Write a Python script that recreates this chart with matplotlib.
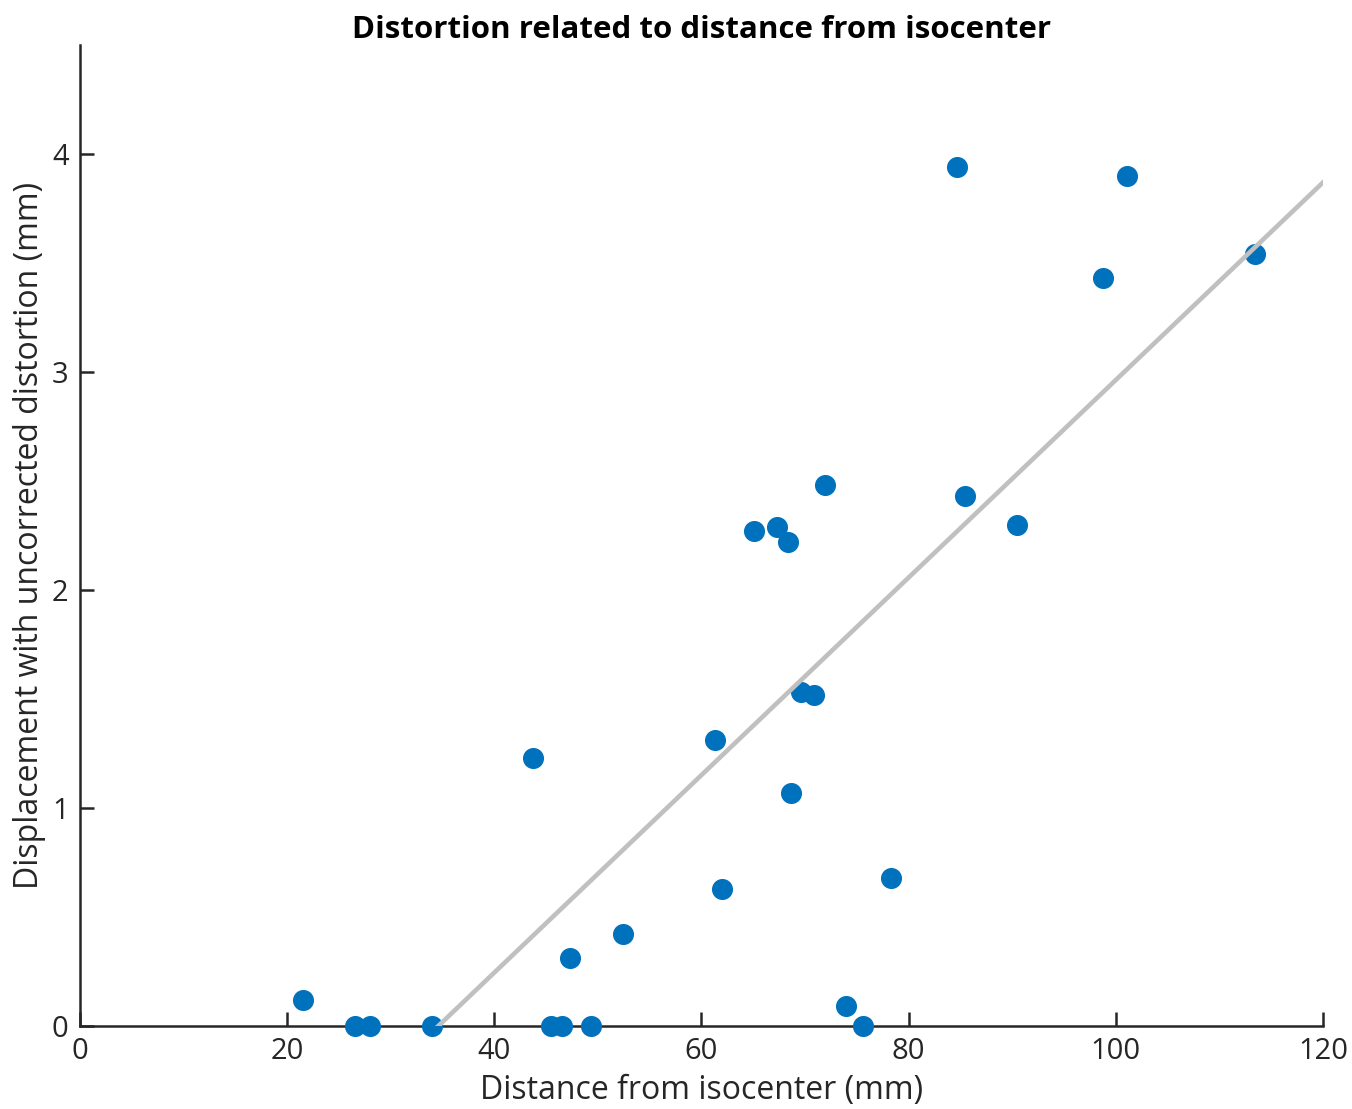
import matplotlib.pyplot as plt

# Measured points (distance from isocenter vs displacement)
distance = [21.5, 26.6, 28.0, 34.0, 43.7, 45.5, 46.5, 47.3, 49.3, 52.4,
            61.3, 62.0, 65.1, 67.3, 68.4, 68.6, 69.6, 70.9, 71.9, 74.0,
            75.6, 78.3, 84.7, 85.4, 90.5, 98.8, 101.1, 113.4]
displacement = [0.12, 0.0, 0.0, 0.0, 1.23, 0.0, 0.0, 0.31, 0.0, 0.42,
                1.31, 0.63, 2.27, 2.29, 2.22, 1.07, 1.53, 1.52, 2.48, 0.09,
                0.0, 0.68, 3.94, 2.43, 2.30, 3.43, 3.90, 3.54]

# Fitted line endpoints
fit_x = [34.6, 120]
fit_y = [0.0, 3.87]

xticks = [0, 20, 40, 60, 80, 100, 120]
yticks = [0, 1, 2, 3, 4]

plt.rcParams['font.family'] = ['Open Sans', 'DejaVu Sans']

fig = plt.figure(figsize=(13.52, 11.09), dpi=100)
ax = fig.add_axes([0.059, 0.0748, 0.9196, 0.8846])

ax.scatter(distance, displacement, s=200, color='#0072BD', zorder=3, clip_on=False)
ax.plot(fit_x, fit_y, color='#c0c0c0', linewidth=3.3, zorder=4)

ax.set_xlim(0, 120)
ax.set_ylim(0, 4.5)
ax.set_xticks(xticks)
ax.set_yticks(yticks)

for side in ['top', 'right']:
    ax.spines[side].set_visible(False)
for side in ['left', 'bottom']:
    ax.spines[side].set_color('#262626')
    ax.spines[side].set_linewidth(1.8)

ax.tick_params(direction='in', length=10, width=1.8, colors='#262626',
               labelsize=21, labelcolor='#262626', pad=8)

ax.set_xlabel('Distance from isocenter (mm)', fontsize=23, color='#262626', labelpad=6)
ax.set_ylabel('Displacement with uncorrected distortion (mm)', fontsize=23,
              color='#262626', labelpad=4)
ax.set_title('Distortion related to distance from isocenter', fontsize=22.5,
             fontweight='bold', pad=4)

fig.savefig('out.png', dpi=100)
